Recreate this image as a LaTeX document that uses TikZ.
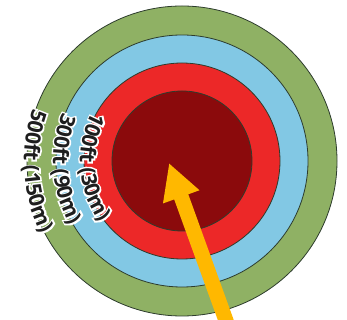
\documentclass[tikz,border=0pt]{standalone}
\usepackage{fontspec}
\newfontfamily\ringfont{Open Sans}[UprightFont={* Bold}]
\newfontfamily\ringhalo{Open Sans}[UprightFont={* Bold},FakeBold=15]
\definecolor{zonegreen}{RGB}{143,177,100}
\definecolor{zoneblue}{RGB}{130,200,228}
\definecolor{zonered}{RGB}{236,40,40}
\definecolor{zonecore}{RGB}{139,10,12}
\definecolor{ringline}{RGB}{45,60,45}
\definecolor{ringink}{RGB}{30,30,30}
\definecolor{arrowgold}{RGB}{255,184,0}
\usetikzlibrary{arrows.meta,decorations.text}

\begin{document}
\begin{tikzpicture}[x=1pt,y=1pt,>={Triangle[length=36pt,width=36pt]},
  ring/.style={circle,draw=ringline,line width=0.8pt,inner sep=0pt,minimum size=#1},
  halo/.style={decorate,decoration={text along path,text align=center,text color=white,text={|\fontsize{21}{23}\ringhalo|#1}}},
  ink/.style={decorate,decoration={text along path,text align=center,text color=ringink,text={|\fontsize{21}{23}\ringfont|#1}}},
  pointer/.style={->,draw=arrowgold,fill=arrowgold,line width=15pt}]
  \useasboundingbox (0,0) rectangle (347,320);
  \clip (0,0) rectangle (347,320);

  % zones, outer to inner
  \coordinate (centre) at (182,159);
  \node[ring=310pt,fill=zonegreen] (zone500) at (centre) {};
  \node[ring=252pt,fill=zoneblue] (zone300) at (centre) {};
  \node[ring=196pt,fill=zonered] (zone100) at (centre) {};
  \node[ring=140pt,fill=zonecore] (core) at (centre) {};

  % distance labels along the rims
  \path[halo=100ft (30m)] ([shift={(114:102)}]centre) arc[start angle=114,end angle=254,radius=102];
  \path[ink=100ft (30m)] ([shift={(114:102)}]centre) arc[start angle=114,end angle=254,radius=102];
  \path[halo=300ft (90m)] ([shift={(114:129)}]centre) arc[start angle=114,end angle=254,radius=129];
  \path[ink=300ft (90m)] ([shift={(114:129)}]centre) arc[start angle=114,end angle=254,radius=129];
  \path[halo=500ft (150m)] ([shift={(114:158)}]centre) arc[start angle=114,end angle=254,radius=158];
  \path[ink=500ft (150m)] ([shift={(114:158)}]centre) arc[start angle=114,end angle=254,radius=158];

  % approach arrow
  \coordinate (tail) at (233,-20);
  \coordinate (tip) at (169,157);
  \draw[pointer] (tail) -- (tip);
\end{tikzpicture}
\end{document}
